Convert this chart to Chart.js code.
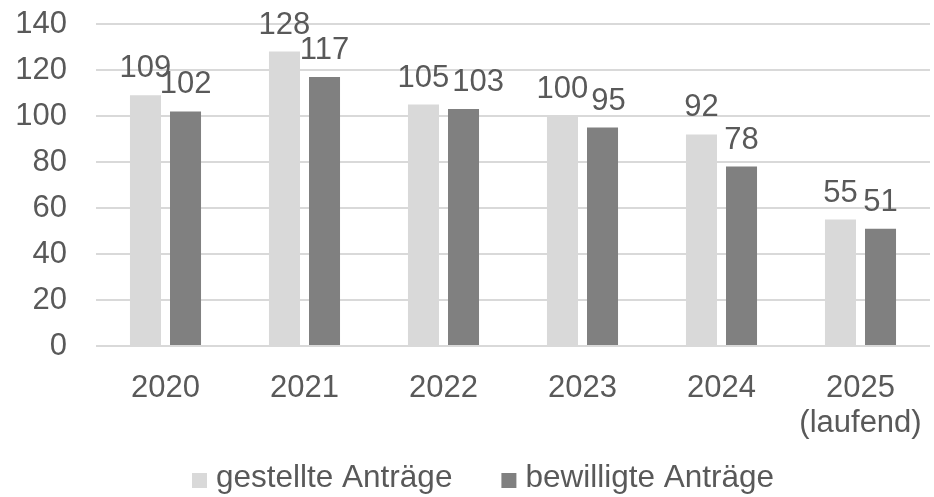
<!DOCTYPE html>
<html>
<head>
<meta charset="utf-8">
<script src="https://cdn.jsdelivr.net/npm/chart.js@4/dist/chart.umd.min.js"></script>
<style>
  html, body { margin: 0; padding: 0; background: #fff; }
</style>
</head>
<body>
<canvas id="myChart" width="934" height="497"></canvas>
<script>
var categories = ['2020', '2021', '2022', '2023', '2024', ['2025', '(laufend)']];
var gestellt = [109, 128, 105, 100, 92, 55];
var bewilligt = [102, 117, 103, 95, 78, 51];
var yTicks = [0, 20, 40, 60, 80, 100, 120, 140];

var fontFamily = '"Liberation Sans", Arial, sans-serif';
var fontSize = 31;
var textColor = '#595959';

// numbers above each bar, the right one nudged if the two collide
var valueLabels = {
    id: 'valueLabels',
    afterDatasetsDraw: function(chart) {
        var ctx = chart.ctx;
        ctx.save();
        ctx.font = fontSize + 'px ' + fontFamily;
        ctx.fillStyle = textColor;
        ctx.textAlign = 'center';
        ctx.textBaseline = 'alphabetic';
        var left = chart.getDatasetMeta(0).data;
        var right = chart.getDatasetMeta(1).data;
        left.forEach(function(barA, j) {
            var barB = right[j];
            var a = String(gestellt[j]), b = String(bewilligt[j]);
            var wa = ctx.measureText(a).width, wb = ctx.measureText(b).width;
            var shift = 0;
            if (Math.abs(barA.y - barB.y) < 15) {
                var overlap = (barA.x + wa / 2 + 3) - (barB.x - wb / 2);
                if (overlap > 0) shift = overlap;
            }
            ctx.fillText(a, barA.x, barA.y - 18);
            ctx.fillText(b, barB.x + shift, barB.y - 18);
        });
        ctx.restore();
    }
};

// legend like the excel one: small square, short gap, text
var bottomLegend = {
    id: 'bottomLegend',
    afterDraw: function(chart) {
        var ctx = chart.ctx;
        ctx.save();
        ctx.font = '31.5px ' + fontFamily;
        ctx.textBaseline = 'alphabetic';
        ctx.textAlign = 'left';
        var x = 192;
        chart.data.datasets.forEach(function(ds) {
            ctx.fillStyle = ds.backgroundColor;
            ctx.fillRect(x, 473, 15, 15);
            x += 15 + 9;
            ctx.fillStyle = textColor;
            ctx.fillText(ds.label, x, 487);
            x += ctx.measureText(ds.label).width + 49;
        });
        ctx.restore();
    }
};

var ctx2 = document.getElementById('myChart').getContext('2d');
var chart = new Chart(ctx2, {
    type: 'bar',
    data: {
        labels: categories,
        datasets: [{
            label: 'gestellte Anträge',
            backgroundColor: '#d9d9d9',
            data: gestellt
        }, {
            label: 'bewilligte Anträge',
            backgroundColor: '#808080',
            data: bewilligt
        }]
    },
    plugins: [valueLabels, bottomLegend],
    options: {
        responsive: false,
        animation: false,
        layout: { padding: { top: 24, right: 4, left: 0, bottom: 50 } },
        datasets: {
            bar: { categoryPercentage: 0.576, barPercentage: 0.775 }
        },
        scales: {
            x: {
                afterFit: function(axis) {
                    axis.height = 101;
                    axis.paddingLeft = 0;
                    axis.paddingRight = 0;
                },
                grid: { display: false },
                border: { display: false },
                ticks: { color: textColor, font: { size: fontSize, family: fontFamily, lineHeight: 1.16 }, padding: 16 }
            },
            y: {
                min: 0,
                max: 140,
                afterBuildTicks: function(axis) {
                    axis.ticks = yTicks.map(function(v) { return { value: v }; });
                },
                afterFit: function(axis) {
                    axis.width = 96;
                    axis.paddingTop = 0;
                    axis.paddingBottom = 0;
                },
                grid: { color: '#d9d9d9', lineWidth: 2, drawTicks: false },
                border: { display: false },
                ticks: { color: textColor, font: { size: fontSize, family: fontFamily }, padding: 29 }
            }
        },
        plugins: {
            tooltip: { enabled: false },
            legend: { display: false }
        }
    }
});
</script>
</body>
</html>
